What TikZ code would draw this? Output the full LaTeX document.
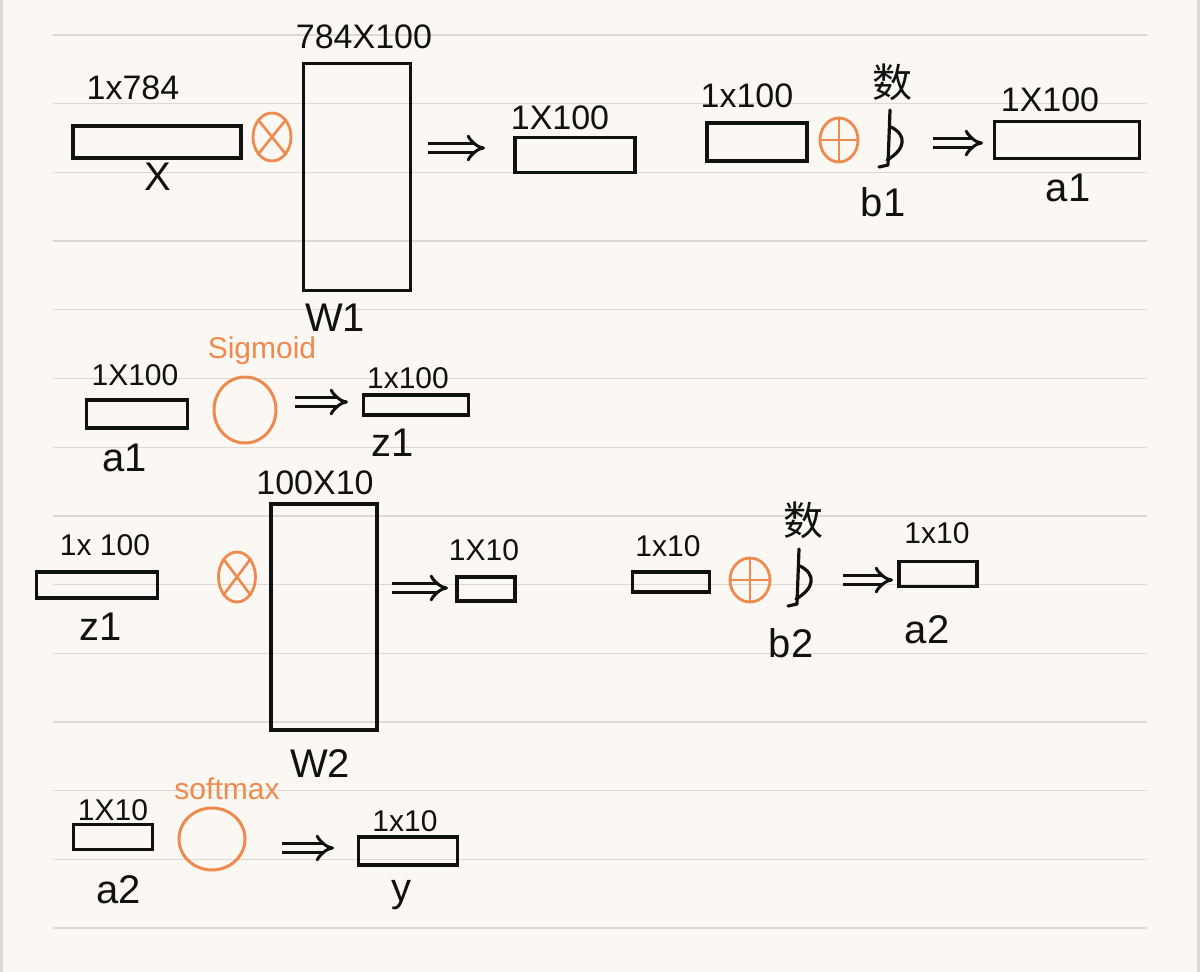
\documentclass[tikz,border=0pt]{standalone}
\usepackage{fontspec}
\setmainfont{Liberation Sans}
\newfontfamily\cjk{Noto Sans CJK SC}
\usetikzlibrary{arrows.meta,shapes.geometric}
\definecolor{paper}{HTML}{FBF8F3}
\definecolor{edgegray}{HTML}{DEDCDA}
\definecolor{rulegray}{HTML}{DCD9D5}
\definecolor{ink}{HTML}{111111}
\definecolor{ora}{HTML}{EE8A4E}
\begin{document}
\begin{tikzpicture}[x=1pt,y=-1pt,
  vec/.style={draw=ink, line width=3.2pt, rectangle, inner sep=0pt},
  lbl/.style={text=ink, inner sep=0pt, font=\fontsize{34}{38}\selectfont},
  lbls/.style={text=ink, inner sep=0pt, font=\fontsize{30}{34}\selectfont},
  var/.style={text=ink, inner sep=0pt, font=\fontsize{40}{44}\selectfont},
  han/.style={text=ink, inner sep=0pt, font=\cjk\fontsize{40}{44}\selectfont},
  op/.style={draw=ora, line width=2.8pt, ellipse, inner sep=0pt},
  act/.style={draw=ora, line width=3pt, ellipse, inner sep=0pt},
  olbl/.style={text=ora, inner sep=0pt, font=\fontsize{30}{34}\selectfont},
  opline/.style={draw=ora, line width=2.6pt},
  imp/.style={draw=ink, line width=3pt, double=paper, double distance=6pt, -{Implies}},
  inkline/.style={draw=ink, line width=3.2pt, line cap=round, line join=round},
  bmark/.pic={
    \draw[inkline] (0,-29) -- (-2,26) -- (-11,28);
    \draw[inkline] (1,-12) .. controls (17,-4) and (16,10) .. (-3,21);
  }
]
% page
\fill[edgegray] (0,0) rectangle (1200,972);
\fill[paper] (3,0) rectangle (1197,972);
\useasboundingbox (0,0) rectangle (1200,972);
\foreach \k in {0,...,13}{
  \draw[rulegray, line width=1.3pt] (53,35+68.7*\k) -- (1147,35+68.7*\k);
}

% ---------- row 1 ----------
\node[vec, minimum width=168, minimum height=32] (x) at (157,142) {};
\node[lbl] (xdim) at (133,88) {1x784};
\node[var] (xname) at (158,177) {X};
\node[op, minimum width=38, minimum height=48] (m1) at (272,137) {};
\draw[opline] (m1.north west) -- (m1.south east) (m1.north east) -- (m1.south west);
\node[vec, minimum width=107, minimum height=227] (W1) at (357,177) {};
\node[lbl] (w1dim) at (364,37) {784X100};
\node[var] (w1name) at (335,318) {W1};
\coordinate (r1a) at (428,148);
\coordinate (r1b) at (485,148);
\draw[imp] (r1a) -- (r1b);
\node[vec, minimum width=120, minimum height=35] (h1) at (575,155) {};
\node[lbl] (h1dim) at (560,118) {1X100};
\node[vec, minimum width=100, minimum height=38] (h1b) at (757,142) {};
\node[lbl] (h1bdim) at (747,96) {1x100};
\node[op, minimum width=38, minimum height=44] (p1) at (839,140) {};
\draw[opline] (p1.north) -- (p1.south) (p1.west) -- (p1.east);
\node[han] (n1) at (892,82) {数};
\pic (bg1) at (890,139) {bmark};
\node[var] (b1) at (883,202) {b1};
\coordinate (r2a) at (933,143);
\coordinate (r2b) at (983,143);
\draw[imp] (r2a) -- (r2b);
\node[vec, minimum width=145, minimum height=37] (a1) at (1067,140) {};
\node[lbl] (a1dim) at (1050,100) {1X100};
\node[var] (a1name) at (1068,188) {a1};

% ---------- row 2 ----------
\node[vec, minimum width=101, minimum height=28] (a1r) at (137,414) {};
\node[lbls] (a1rdim) at (135,375) {1X100};
\node[var] (a1rname) at (125,458) {a1};
\node[olbl] (sig) at (262,351) {Sigmoid};
\node[act, minimum width=62, minimum height=66] (s1) at (245,410) {};
\coordinate (r3a) at (295,402);
\coordinate (r3b) at (348,402);
\draw[imp] (r3a) -- (r3b);
\node[vec, minimum width=105, minimum height=20] (z1) at (416,405) {};
\node[lbls] (z1dim) at (408,378) {1x100};
\node[var] (z1name) at (393,443) {z1};

% ---------- row 3 ----------
\node[vec, minimum width=121, minimum height=26] (z1r) at (97,585) {};
\node[lbls] (z1rdim) at (105,545) {1x 100};
\node[var] (z1rname) at (101,627) {z1};
\node[op, minimum width=37, minimum height=50] (m2) at (237,577) {};
\draw[opline] (m2.north west) -- (m2.south east) (m2.north east) -- (m2.south west);
\node[vec, minimum width=106, minimum height=226] (W2) at (324,617) {};
\node[lbl] (w2dim) at (315,483) {100X10};
\node[var] (w2name) at (320,764) {W2};
\coordinate (r4a) at (392,588);
\coordinate (r4b) at (448,588);
\draw[imp] (r4a) -- (r4b);
\node[vec, minimum width=58, minimum height=24] (h2) at (486,589) {};
\node[lbls] (h2dim) at (484,550) {1X10};
\node[vec, minimum width=77, minimum height=20] (h2b) at (671,582) {};
\node[lbls] (h2bdim) at (668,546) {1x10};
\node[op, minimum width=40, minimum height=44] (p2) at (750,580) {};
\draw[opline] (p2.north) -- (p2.south) (p2.west) -- (p2.east);
\node[han] (n2) at (803,520) {数};
\pic (bg2) at (799,578) {bmark};
\node[var] (b2) at (791,643) {b2};
\coordinate (r5a) at (843,580);
\coordinate (r5b) at (893,580);
\draw[imp] (r5a) -- (r5b);
\node[vec, minimum width=78, minimum height=25] (a2) at (938,574) {};
\node[lbls] (a2dim) at (937,533) {1x10};
\node[var] (a2name) at (927,630) {a2};

% ---------- row 4 ----------
\node[vec, minimum width=79, minimum height=25] (a2r) at (113,837) {};
\node[lbls] (a2rdim) at (113,810) {1X10};
\node[var] (a2rname) at (119,890) {a2};
\node[olbl] (soft) at (227,789) {softmax};
\node[act, minimum width=66, minimum height=62] (s2) at (212,839) {};
\coordinate (r6a) at (282,848);
\coordinate (r6b) at (334,848);
\draw[imp] (r6a) -- (r6b);
\node[vec, minimum width=99, minimum height=28] (y) at (408,851) {};
\node[lbls] (ydim) at (405,821) {1x10};
\node[var] (yname) at (401,895) {y};
\end{tikzpicture}
\end{document}
